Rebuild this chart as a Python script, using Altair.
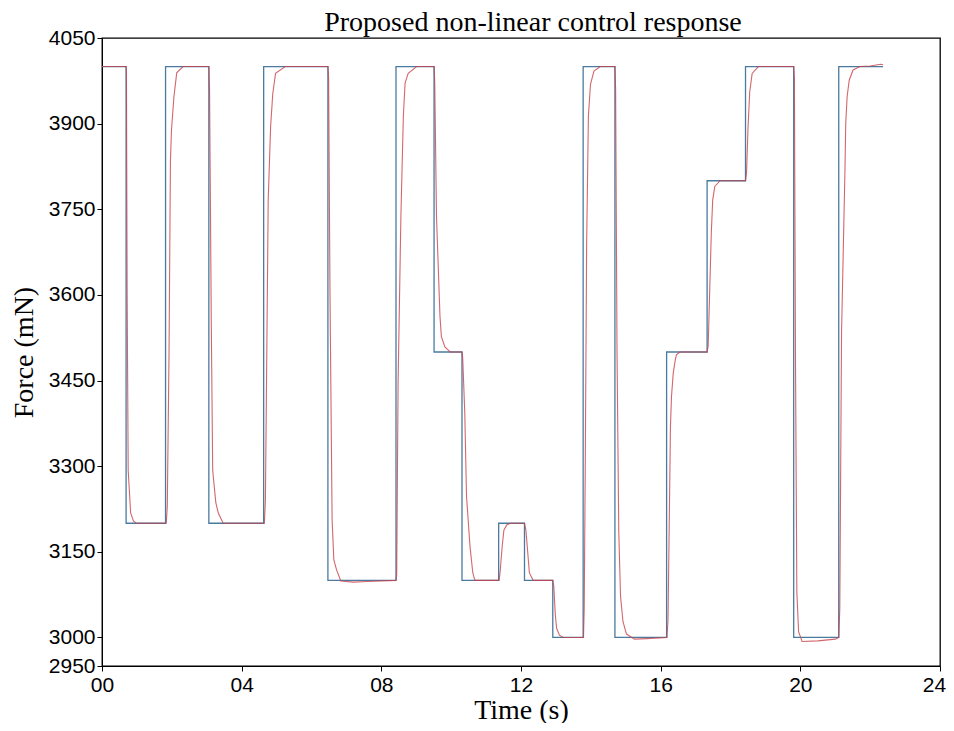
import altair as alt
import pandas as pd

# Setpoint (blue) step changes: time (s) and force (mN)
set_t = [0.00, 0.69, 1.82, 3.06, 4.63, 6.47, 8.42, 9.51, 10.31, 11.36, 12.10,
         12.91, 13.78, 14.69, 16.17, 17.33, 18.43, 19.81, 21.10, 22.37]
set_f = [4000, 3200, 4000, 3200, 4000, 3100, 4000, 3500, 3100, 3200, 3100,
         3000, 4000, 3000, 3500, 3800, 4000, 3000, 4000, 4000]

red_t = [0.00, 0.69, 0.70, 0.72, 0.75, 0.82, 0.90, 0.98,
         1.84, 1.87, 1.92, 1.96, 1.99, 2.06, 2.14, 2.32,
         3.06, 3.08, 3.10, 3.13, 3.17, 3.26, 3.33, 3.47,
         4.65, 4.68, 4.72, 4.76, 4.83, 4.89, 4.97, 5.25,
         6.47, 6.49, 6.53, 6.59, 6.64, 6.72, 6.84, 7.20, 7.60,
         8.42, 8.44, 8.48, 8.56, 8.63, 8.68, 8.77, 9.01,
         9.51, 9.53, 9.58, 9.68, 9.72, 9.82, 9.97,
         10.31, 10.33, 10.39, 10.44, 10.54, 10.62, 10.68,
         11.37, 11.40, 11.46, 11.51, 11.59, 11.70,
         12.10, 12.14, 12.18, 12.24, 12.35,
         12.91, 12.94, 12.98, 13.02, 13.10, 13.21,
         13.79, 13.81, 13.84, 13.88, 13.93, 13.99, 14.09, 14.27,
         14.69, 14.71, 14.75, 14.80, 14.85, 14.92, 15.02, 15.25, 15.60,
         16.18, 16.21, 16.25, 16.28, 16.31, 16.36, 16.41, 16.45, 16.55,
         17.33, 17.36, 17.41, 17.45, 17.49, 17.55, 17.70,
         18.43, 18.46, 18.50, 18.55, 18.62, 18.80,
         19.81, 19.83, 19.86, 19.90, 19.95, 20.05, 20.50, 21.00,
         21.10, 21.13, 21.18, 21.28, 21.30, 21.34, 21.40, 21.51, 21.71,
         22.00, 22.30, 22.37]
red_f = [4000, 4000, 3990, 3600, 3293, 3218, 3204, 3200,
         3200, 3230, 3500, 3836, 3889, 3947, 3989, 4000,
         4000, 3960, 3800, 3550, 3293, 3236, 3218, 3200,
         3200, 3240, 3500, 3766, 3896, 3952, 3988, 4000,
         4000, 3980, 3600, 3206, 3136, 3118, 3099, 3097, 3098,
         3100, 3110, 3446, 3737, 3912, 3971, 3988, 4000,
         4000, 3971, 3737, 3562, 3527, 3509, 3500,
         3500, 3490, 3393, 3247, 3159, 3113, 3100,
         3100, 3113, 3159, 3188, 3197, 3200,
         3200, 3188, 3159, 3113, 3100,
         3100, 3089, 3042, 3016, 3004, 3000,
         3000, 3050, 3297, 3689, 3913, 3969, 3992, 4000,
         4000, 3960, 3500, 3185, 3073, 3028, 3006, 2997, 2998,
         3000, 3030, 3220, 3369, 3422, 3463, 3483, 3495, 3500,
         3500, 3510, 3620, 3708, 3766, 3790, 3800,
         3800, 3815, 3890, 3955, 3988, 4000,
         4000, 3980, 3500, 3080, 3010, 2993, 2994, 2997,
         3000, 3050, 3533, 3825, 3900, 3947, 3976, 3994, 4000,
         4001, 4004, 4003]

y_ticks = [2950, 3000, 3150, 3300, 3450, 3600, 3750, 3900, 4050]
x_ticks = [0, 4, 8, 12, 16, 20, 24]

set_df = pd.DataFrame({"t": set_t, "f": set_f})
red_df = pd.DataFrame({"t": red_t, "f": red_f})

x_enc = alt.X("t:Q", scale=alt.Scale(domain=[0, 24], nice=False, zero=False),
              axis=alt.Axis(values=x_ticks, title="Time (s)",
                            labelExpr="datum.value < 10 ? '0' + datum.value : '' + datum.value",
                            labelOffset={"condition": {"test": "datum.value == 24", "value": -6},
                                         "value": 0},
                            grid=False, domainColor="black", tickColor="black",
                            tickSize=5, labelPadding=3, labelFlush=False,
                            labelFont="Liberation Sans",
                            labelFontSize=21, labelColor="black",
                            titleFont="Liberation Serif", titleFontSize=28,
                            titleFontWeight="normal", titleColor="black",
                            titleX=419, titleY=44, titleBaseline="middle",
                            titleAlign="center"))
y_enc = alt.Y("f:Q", scale=alt.Scale(domain=[2950, 4050], nice=False, zero=False),
              axis=alt.Axis(values=y_ticks, title="Force (mN)", grid=False,
                            format="d", labelFlush=False,
                            domainColor="black", tickColor="black", tickSize=5,
                            labelPadding=2, labelFont="Liberation Sans",
                            labelFontSize=21, labelColor="black",
                            titleFont="Liberation Serif", titleFontSize=28,
                            titleFontWeight="normal", titleColor="black",
                            titleX=-78, titleY=314, titleAngle=270,
                            titleBaseline="middle", titleAlign="center"))

blue = alt.Chart(set_df).mark_line(interpolate="step-after", color="#4a7b9f",
                                   strokeWidth=1.3).encode(x=x_enc, y=y_enc)
red = alt.Chart(red_df).mark_line(color="#c8404a", strokeWidth=1.1,
                                  opacity=0.8).encode(x="t:Q", y="f:Q")

chart = alt.layer(blue, red).properties(
    width=838, height=628,
    title=alt.TitleParams("Proposed non-linear control response",
                          font="Liberation Serif", fontSize=28,
                          fontWeight="normal", color="black", anchor="middle",
                          offset=0, dx=12, dy=10),
    autosize=alt.AutoSizeParams(type="none"),
    padding={"left": 94, "top": 30, "right": 6, "bottom": 57},
).configure_view(stroke="black", strokeWidth=1.3)

chart.save("out.html", embed_options={"renderer": "svg", "actions": False})
